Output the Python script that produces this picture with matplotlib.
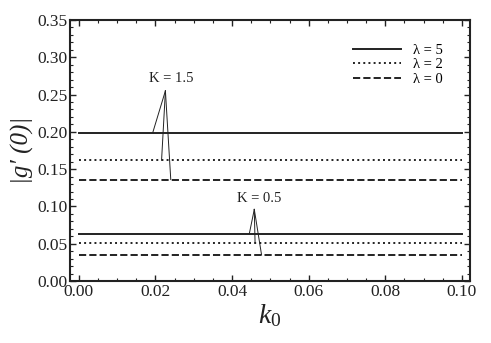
import matplotlib
matplotlib.use("Agg")
import matplotlib.pyplot as plt
from matplotlib.ticker import MultipleLocator

plt.rcParams['font.family'] = ['Liberation Serif', 'DejaVu Serif']
plt.rcParams['mathtext.fontset'] = 'custom'
plt.rcParams['mathtext.it'] = 'Liberation Serif:italic'
plt.rcParams['mathtext.rm'] = 'Liberation Serif'

k0_range = [0.0, 0.1]
labels = ['λ = 5', 'λ = 2', 'λ = 0']
styles = ['-', ':', '--']
g_K15 = [0.199, 0.162, 0.136]
g_K05 = [0.0634, 0.0514, 0.0349]

# annotation anchors: (text, text x, text y, apex x, apex y, endpoint xs)
ann_K15 = ('K = 1.5', 0.024, 0.272, 0.0226, 0.255, [0.0193, 0.0216, 0.0240])
ann_K05 = ('K = 0.5', 0.047, 0.111, 0.0458, 0.096, [0.0445, 0.0460, 0.0477])

fig = plt.figure(figsize=(4.91, 3.43), dpi=100)
ax = fig.add_axes([70 / 491, 62 / 343, 400 / 491, 261 / 343])

for val, ls, lab in zip(g_K15, styles, labels):
    ax.plot(k0_range, [val, val], color='#222222', ls=ls, lw=1.4, label=lab)
for val, ls in zip(g_K05, styles):
    ax.plot(k0_range, [val, val], color='#222222', ls=ls, lw=1.4)

for txt, tx, ty, axx, axy, xs, vals in [(*ann_K15, g_K15), (*ann_K05, g_K05)]:
    ax.text(tx, ty, txt, ha='center', va='center', fontsize=10.5, color='#222222')
    for x, v in zip(xs, vals):
        ax.plot([axx, x], [axy, v], color='#222222', lw=0.7)

ax.set_xlim(-0.0023, 0.1021)
ax.set_ylim(0, 0.35)
ax.xaxis.set_major_locator(MultipleLocator(0.02))
ax.xaxis.set_minor_locator(MultipleLocator(0.005))
ax.yaxis.set_major_locator(MultipleLocator(0.05))
ax.yaxis.set_minor_locator(MultipleLocator(0.01))
ax.xaxis.set_major_formatter(lambda v, p: f"{v:.2f}")
ax.yaxis.set_major_formatter(lambda v, p: f"{v:.2f}")
ax.tick_params(which='both', direction='in', top=True, right=True, colors='#222222',
               labelsize=12.5)
ax.tick_params(which='major', length=4, width=1, pad=2)
ax.tick_params(which='minor', length=2, width=0.8)
for s in ax.spines.values():
    s.set_linewidth(1.5)
    s.set_color('#222222')

ax.set_xlabel(r"$\mathit{k_0}$", fontsize=20, color='#222222', labelpad=2)
ax.set_ylabel("|g′ (0)|", fontsize=18, style='italic', color='#222222', labelpad=2)

leg = ax.legend(loc='upper right', frameon=False, fontsize=10.5, handlelength=3.3,
                labelspacing=0.1, bbox_to_anchor=(0.965, 0.96))

fig.savefig("out.png", dpi=100)
